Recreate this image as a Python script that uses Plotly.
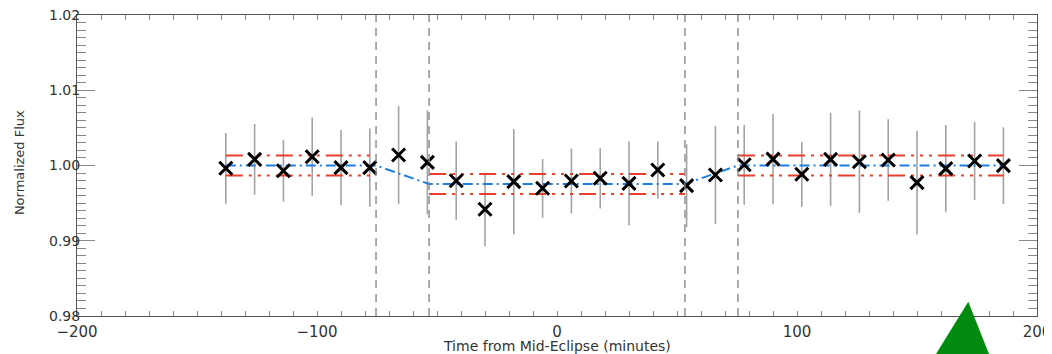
import plotly.graph_objects as go

# ---- data ----
time_min = [-138, -126, -114, -102, -90, -78, -66, -54, -42, -30, -18, -6, 6, 18,
            30, 42, 54, 66, 78, 90, 102, 114, 126, 138, 150, 162, 174, 186]
flux = [0.99963, 1.00082, 0.99931, 1.00117, 0.99971, 0.99971, 1.00140, 1.00042,
        0.99798, 0.99418, 0.99785, 0.99697, 0.99794, 0.99830, 0.99763, 0.99940,
        0.99732, 0.99874, 1.00010, 1.00084, 0.99883, 1.00082, 1.00050, 1.00073,
        0.99772, 0.99958, 1.00060, 0.99998]
flux_err = [0.0047, 0.0047, 0.0041, 0.0052, 0.0050, 0.0052, 0.0065, 0.0069,
            0.0052, 0.0049, 0.0070, 0.0039, 0.0043, 0.0040, 0.0056, 0.0038,
            0.0055, 0.0065, 0.0053, 0.0060, 0.0043, 0.0062, 0.0068, 0.0054,
            0.0069, 0.0058, 0.0052, 0.0051]

# contact points (minutes)
contacts = [-75.4, -53.3, 53.3, 75.4]

# eclipse model
model_t = [-138, -75.4, -53.3, 53.3, 75.4, 186]
model_f = [1.0000, 1.0000, 0.99754, 0.99754, 1.0000, 1.0000]

# +/- 1 sigma bands of the mean levels, per segment
seg_start = [-138, -53.3, 75.4]
seg_end = [-75.4, 53.3, 186]
seg_level = [1.0000, 0.99754, 1.0000]
seg_sigma = [0.00132, 0.00133, 0.00132]

x_range = [-200, 200]
y_range = [0.98, 1.02]
x_title = "Time from Mid-Eclipse (minutes)"
y_title = "Normalized Flux"

fig = go.Figure()

# error bars
fig.add_trace(go.Scatter(
    x=time_min, y=flux, mode="markers",
    marker=dict(size=1, color="rgba(0,0,0,0)"),
    error_y=dict(type="data", array=flux_err, visible=True,
                 color="#a3a3a3", thickness=1.6, width=0),
    showlegend=False, hoverinfo="skip"))

# red sigma lines
red_dash = "17px,6px,3px,6px,3px,6px,3px,6px"
for s, e, lv, sg in zip(seg_start, seg_end, seg_level, seg_sigma):
    for sign in (1, -1):
        fig.add_trace(go.Scatter(
            x=[s, e], y=[lv + sign * sg, lv + sign * sg], mode="lines",
            line=dict(color="#e8402a", width=2, dash=red_dash),
            showlegend=False, hoverinfo="skip"))

# blue model
fig.add_trace(go.Scatter(
    x=model_t, y=model_f, mode="lines",
    line=dict(color="#1f7fe0", width=2, dash="10px,4px,2px,4px"),
    showlegend=False, hoverinfo="skip"))

# data markers
fig.add_trace(go.Scatter(
    x=time_min, y=flux, mode="markers",
    marker=dict(symbol="x-thin-open", size=13, color="black",
                line=dict(color="black", width=3)),
    showlegend=False))

# contact lines
for c in contacts:
    fig.add_shape(type="line", xref="x", yref="paper", x0=c, x1=c, y0=0, y1=1,
                  line=dict(color="#8a8a8a", width=1.4, dash="8px,6px"))

# green triangle decoration
fig.add_shape(type="path", xref="paper", yref="paper",
              path="M 0.9284 0.0475 L 0.8948 -0.1262 L 0.9500 -0.1262 Z",
              fillcolor="#008a0e", line=dict(width=0), layer="above")

x_tick_font = dict(family="DejaVu Sans", size=15, color="#333333")
y_tick_font = dict(family="DejaVu Sans", size=14, color="#333333")
title_font = dict(family="DejaVu Sans", size=14, color="#333333")

# axis titles as annotations for exact placement
fig.add_annotation(text=x_title, xref="paper", yref="paper", x=0.5, y=-0.0997,
                   showarrow=False, font=title_font, xanchor="center", yanchor="middle")
fig.add_annotation(text=y_title, xref="paper", yref="paper", x=-0.0604, y=0.508,
                   showarrow=False, font=dict(family="DejaVu Sans", size=13, color="#333333"),
                   textangle=-90, xanchor="center", yanchor="middle")

fig.update_xaxes(
    range=x_range, tickmode="linear", tick0=-200, dtick=100,
    ticks="inside", ticklen=5,
    tickcolor="#888888", tickwidth=1, showline=True, linecolor="#555555",
    linewidth=1, mirror="allticks", showgrid=False, zeroline=False,
    tickfont=x_tick_font, automargin=False, ticklabeloverflow="allow",
    ticklabelstandoff=2,
    minor=dict(dtick=10, tick0=-200, ticks="inside", ticklen=5,
               tickcolor="#888888", showgrid=False))

fig.update_yaxes(
    range=y_range, tickmode="linear", tick0=0.98, dtick=0.01,
    tickformat=".2f", ticks="inside",
    ticklen=18, tickcolor="#888888", tickwidth=1, showline=True,
    linecolor="#555555", linewidth=1, mirror="allticks", showgrid=False,
    zeroline=False, tickfont=y_tick_font, automargin=False,
    ticklabeloverflow="allow", ticklabelstandoff=-7,
    minor=dict(dtick=0.001, tick0=0.98, ticks="inside", ticklen=9,
               tickcolor="#888888", showgrid=False))

# the page adds an 8px body margin, so the figure is 8px smaller
fig.update_layout(
    width=1044, height=346,
    margin=dict(l=69, r=15, t=7, b=38),
    plot_bgcolor="white", paper_bgcolor="white",
    showlegend=False)

fig.write_html("out.html")
